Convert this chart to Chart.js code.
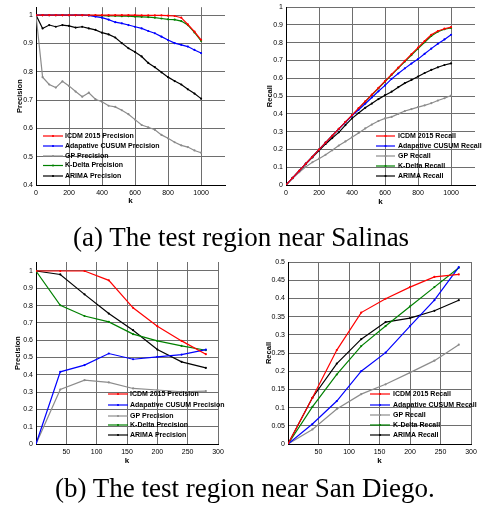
<!DOCTYPE html>
<html>
<head>
<meta charset="utf-8">
<script src="https://cdn.jsdelivr.net/npm/chart.js@4.4.1/dist/chart.umd.min.js"></script>
<style>
  html, body { margin:0; padding:0; background:#fff; }
  body { width:484px; height:514px; position:relative; overflow:hidden; }
  canvas { position:absolute; }
  .cap { position:absolute; font-family:"Liberation Serif", "Times New Roman", serif; font-size:27px; line-height:27px; white-space:nowrap; color:#000; }
</style>
</head>
<body>
<canvas id="c1" width="242" height="220" style="left:0;top:0"></canvas>
<canvas id="c2" width="242" height="220" style="left:242px;top:0"></canvas>
<canvas id="c3" width="242" height="225" style="left:0;top:250px"></canvas>
<canvas id="c4" width="242" height="225" style="left:242px;top:250px"></canvas>
<div class="cap" style="left:73px;top:224px">(a) The test region near Salinas</div>
<div class="cap" style="left:55px;top:475px">(b) The test region near San Diego.</div>
<script>
// ---------------- DATA ----------------
const seriesNames = ["ICDM 2015", "Adapative CUSUM", "GP", "K-Delta", "ARIMA"];

const kSalinas = [0,40,80,120,160,200,240,280,320,360,400,440,480,520,560,600,640,680,720,760,800,840,880,920,960,1000];
const salPrecICDM   = [1,1,1,1,1,1,1,1,1,1,1,1,1,1,1,1,0.999,0.999,0.999,0.999,0.998,0.997,0.991,0.967,0.942,0.913];
const salPrecCUSUM  = [1,1,1,1,1,1,1,1,0.999,0.995,0.991,0.984,0.975,0.971,0.965,0.959,0.953,0.944,0.936,0.924,0.912,0.901,0.895,0.889,0.877,0.866];
const salPrecGP     = [1,0.781,0.755,0.744,0.766,0.750,0.730,0.712,0.726,0.703,0.694,0.680,0.676,0.664,0.650,0.631,0.612,0.604,0.595,0.577,0.565,0.551,0.540,0.534,0.522,0.514];
const salPrecKDelta = [1,1,1,1,1,1,1,1,0.999,0.998,0.998,0.997,0.997,0.996,0.996,0.995,0.994,0.993,0.991,0.988,0.985,0.984,0.979,0.965,0.939,0.909];
const salPrecARIMA  = [1,0.953,0.965,0.959,0.965,0.962,0.956,0.959,0.953,0.948,0.938,0.932,0.921,0.901,0.883,0.870,0.854,0.831,0.816,0.798,0.781,0.767,0.755,0.738,0.723,0.705];

const salRecICDM   = [0,0.040,0.080,0.120,0.159,0.199,0.238,0.277,0.316,0.355,0.393,0.432,0.470,0.508,0.546,0.584,0.622,0.660,0.698,0.736,0.773,0.810,0.845,0.866,0.879,0.888];
const salRecCUSUM  = [0,0.040,0.080,0.120,0.159,0.199,0.238,0.277,0.315,0.353,0.390,0.423,0.457,0.492,0.527,0.560,0.597,0.627,0.656,0.683,0.708,0.738,0.767,0.794,0.819,0.845];
const salRecGP     = [0,0.037,0.072,0.102,0.128,0.148,0.170,0.195,0.222,0.245,0.268,0.293,0.318,0.340,0.360,0.375,0.383,0.400,0.416,0.427,0.438,0.448,0.460,0.475,0.488,0.503];
const salRecKDelta = [0,0.040,0.080,0.120,0.159,0.199,0.238,0.277,0.316,0.354,0.392,0.430,0.468,0.506,0.544,0.582,0.620,0.657,0.694,0.731,0.767,0.803,0.838,0.862,0.876,0.883];
const salRecARIMA  = [0,0.039,0.078,0.117,0.155,0.193,0.231,0.264,0.296,0.337,0.375,0.405,0.434,0.458,0.483,0.505,0.525,0.550,0.573,0.591,0.610,0.630,0.647,0.662,0.675,0.684];

const kSanDiego = [0,40,80,120,160,200,240,280];
const sdPrecICDM   = [1,1,1,0.946,0.787,0.681,0.596,0.519];
const sdPrecCUSUM  = [0,0.417,0.456,0.523,0.490,0.504,0.517,0.546];
const sdPrecGP     = [0,0.315,0.369,0.356,0.321,0.312,0.302,0.306];
const sdPrecKDelta = [1,0.802,0.740,0.706,0.635,0.596,0.567,0.542];
const sdPrecARIMA  = [1,0.980,0.865,0.754,0.658,0.546,0.475,0.440];

const sdRecICDM   = [0,0.127,0.258,0.361,0.399,0.431,0.459,0.466];
const sdRecCUSUM  = [0,0.055,0.118,0.200,0.251,0.324,0.395,0.486];
const sdRecGP     = [0,0.040,0.096,0.137,0.164,0.196,0.229,0.273];
const sdRecKDelta = [0,0.102,0.191,0.269,0.324,0.378,0.431,0.484];
const sdRecARIMA  = [0,0.127,0.221,0.288,0.335,0.346,0.366,0.395];

const ticksSalX   = [0,200,400,600,800,1000];
const ticksSalPrecY = [0.4,0.5,0.6,0.7,0.8,0.9,1];
const ticksUnitY  = [0,0.1,0.2,0.3,0.4,0.5,0.6,0.7,0.8,0.9,1];
const ticksSdX    = [50,100,150,200,250,300];
const ticksSdRecY = [0,0.05,0.1,0.15,0.2,0.25,0.3,0.35,0.4,0.45,0.5];

// ---------------- STYLE ----------------
const colors = ["#ff0000", "#0000ff", "#8c8c8c", "#008000", "#000000"];
const FONT = '"Liberation Sans", Arial, sans-serif';

const inlineLegend = {
  id: 'inlineLegend',
  afterDatasetsDraw(chart, args, opts) {
    const ctx = chart.ctx;
    ctx.save();
    ctx.font = 'bold 7px ' + FONT;
    ctx.textBaseline = 'middle';
    ctx.textAlign = 'left';
    chart.data.datasets.forEach((ds, i) => {
      const y = opts.rows[i];
      ctx.strokeStyle = ds.borderColor;
      ctx.lineWidth = 1.2;
      ctx.beginPath();
      ctx.moveTo(opts.x0, y);
      ctx.lineTo(opts.x1, y);
      ctx.stroke();
      ctx.fillStyle = ds.borderColor;
      ctx.beginPath();
      ctx.arc((opts.x0 + opts.x1) / 2, y, 1.1, 0, Math.PI * 2);
      ctx.fill();
      ctx.fillStyle = '#000';
      ctx.fillText(ds.label, opts.tx, y);
    });
    ctx.restore();
  }
};

function fmt(v) { return String(Math.round(v * 1000) / 1000); }

function makeChart(id, k, seriesVals, metric, cfg) {
  const datasets = seriesVals.map((vals, i) => ({
    label: seriesNames[i] + ' ' + metric,
    data: k.map((x, j) => ({ x: x, y: vals[j] })),
    borderColor: colors[i],
    backgroundColor: colors[i],
    borderWidth: 1.2,
    pointRadius: 1.1,
    pointBorderWidth: 0,
    pointBackgroundColor: colors[i],
    tension: 0,
    fill: false
  }));
  const gridOpts = { color: '#6e6e6e', lineWidth: 1, drawTicks: false };
  const tickFont = { family: FONT, size: 7 };
  return new Chart(document.getElementById(id), {
    type: 'line',
    data: { datasets: datasets },
    plugins: [inlineLegend],
    options: {
      responsive: false,
      animation: false,
      events: [],
      layout: { padding: { left: 0, right: cfg.padRight, top: cfg.padTop, bottom: 0 } },
      plugins: {
        legend: { display: false },
        tooltip: { enabled: false },
        inlineLegend: cfg.legend
      },
      scales: {
        x: {
          type: 'linear',
          min: cfg.xMin, max: cfg.xMax,
          afterFit(s) { s.height = cfg.xHeight; },
          afterBuildTicks(s) { s.ticks = cfg.xTicks.map(v => ({ value: v })); },
          grid: gridOpts,
          border: { color: '#000', width: 1 },
          ticks: { font: tickFont, color: '#000', padding: 4, maxRotation: 0, autoSkip: false, callback: v => fmt(v) },
          title: { display: true, text: 'k', color: '#000', font: { family: FONT, size: 8, weight: 'bold' }, padding: { top: 0, bottom: cfg.xTitlePad } }
        },
        y: {
          type: 'linear',
          min: cfg.yMin, max: cfg.yMax,
          afterFit(s) { s.width = cfg.yWidth; },
          afterBuildTicks(s) { s.ticks = cfg.yTicks.map(v => ({ value: v })); },
          grid: gridOpts,
          border: { color: '#000', width: 1 },
          ticks: { font: tickFont, color: '#000', padding: 3, autoSkip: false, callback: v => fmt(v) },
          title: { display: true, text: metric, color: '#000', font: { family: FONT, size: 7.5, weight: 'bold' }, padding: { top: cfg.yTitlePad, bottom: 0 } }
        }
      }
    }
  });
}

makeChart('c1', kSalinas, [salPrecICDM, salPrecCUSUM, salPrecGP, salPrecKDelta, salPrecARIMA], 'Precision', {
  padRight: 17, padTop: 5, xHeight: 35, yWidth: 36,
  xMin: 0, xMax: 1145, yMin: 0.4, yMax: 1.028,
  xTicks: ticksSalX, yTicks: ticksSalPrecY, xTitlePad: 14.2, yTitlePad: 15.5,
  legend: { x0: 43, x1: 63, tx: 65, rows: [136, 146, 156, 165.5, 176] }
});
makeChart('c2', kSalinas, [salRecICDM, salRecCUSUM, salRecGP, salRecKDelta, salRecARIMA], 'Recall', {
  padRight: 9, padTop: 5, xHeight: 35, yWidth: 44,
  xMin: 0, xMax: 1145, yMin: 0, yMax: 1,
  xTicks: ticksSalX, yTicks: ticksUnitY, xTitlePad: 13.2, yTitlePad: 23.5,
  legend: { x0: 134, x1: 153, tx: 156, rows: [136, 146, 156, 166, 176] }
});
makeChart('c3', kSanDiego, [sdPrecICDM, sdPrecCUSUM, sdPrecGP, sdPrecKDelta, sdPrecARIMA], 'Precision', {
  padRight: 24, padTop: 12, xHeight: 31, yWidth: 36,
  xMin: 0, xMax: 300, yMin: 0, yMax: 1.052,
  xTicks: ticksSdX, yTicks: ticksUnitY, xTitlePad: 9.2, yTitlePad: 13.5,
  legend: { x0: 108, x1: 128, tx: 130, rows: [144, 155, 166, 175, 185] }
});
makeChart('c4', kSanDiego, [sdRecICDM, sdRecCUSUM, sdRecGP, sdRecKDelta, sdRecARIMA], 'Recall', {
  padRight: 13, padTop: 12, xHeight: 31, yWidth: 46,
  xMin: 0, xMax: 300, yMin: 0, yMax: 0.5,
  xTicks: ticksSdX, yTicks: ticksSdRecY, xTitlePad: 9.2, yTitlePad: 22.5,
  legend: { x0: 128, x1: 148, tx: 151, rows: [144, 155, 165, 175, 185] }
});
</script>
</body>
</html>
